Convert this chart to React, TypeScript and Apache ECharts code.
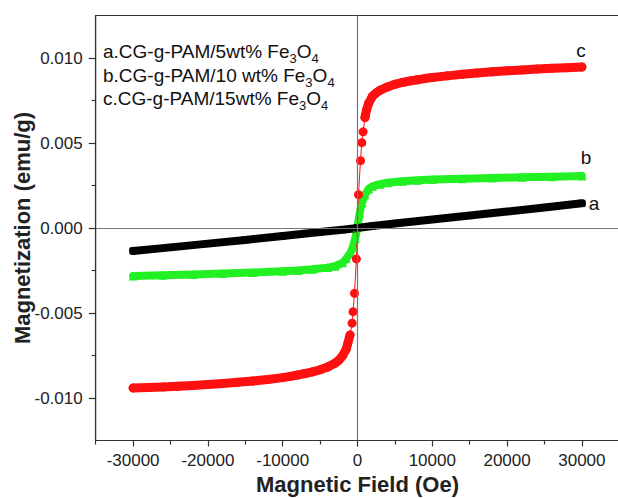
import React, { useEffect, useRef } from "react";
import * as echarts from "echarts";

// Magnetic field (Oe) and magnetization (emu/g)
const fieldA = [-30000, -25000, -20000, -15000, -10000, -5000, -2000, 0, 2000, 5000, 10000, 15000, 20000, 25000, 30000];
const magA = [-0.00135, -0.00114, -0.00092, -0.0007, -0.00047, -0.00024, -0.0001, 0.0, 0.00012, 0.00027, 0.0005, 0.00073, 0.00097, 0.00121, 0.00145];

const fieldB = [-30000, -26000, -22000, -18000, -14000, -10000, -8000, -6000, -4000, -3000, -2000, -1500, -1000, -600, -300, 0, 300, 600, 1000, 1500, 2000, 3000, 4000, 6000, 8000, 10000, 14000, 18000, 22000, 26000, 30000];
const magB = [-0.00282, -0.00278, -0.00273, -0.00268, -0.00262, -0.00255, -0.0025, -0.00243, -0.00233, -0.00225, -0.00205, -0.0018, -0.0015, -0.0011, -0.0006, 0.00005, 0.0009, 0.0015, 0.00195, 0.0023, 0.00245, 0.00258, 0.00266, 0.00275, 0.00281, 0.00285, 0.0029, 0.00294, 0.00298, 0.00302, 0.00306];

const fieldC = [-30000, -28000, -26000, -24000, -22000, -20000, -18000, -16000, -14000, -12000, -10000, -9000, -8000, -7000, -6000, -5000, -4000, -3000, -2500, -2000, -1500, -1000, -720, -590, -400, -150, 130, 400, 575, 750, 1000, 1200, 1500, 2000, 2500, 3000, 4000, 5000, 6000, 7000, 8000, 9000, 10000, 12000, 14000, 16000, 18000, 20000, 22000, 24000, 26000, 28000, 30000];
const magC = [-0.00941, -0.00938, -0.00935, -0.00931, -0.00926, -0.00921, -0.00915, -0.00908, -0.009, -0.00891, -0.0088, -0.00873, -0.00865, -0.00856, -0.00846, -0.00834, -0.00818, -0.00795, -0.00778, -0.00752, -0.00712, -0.0063, -0.0056, -0.00492, -0.00384, -0.00182, 0.00196, 0.00396, 0.00502, 0.00566, 0.0065, 0.00694, 0.00735, 0.00775, 0.00795, 0.0081, 0.0083, 0.00845, 0.00856, 0.00865, 0.00872, 0.00879, 0.00885, 0.00895, 0.00904, 0.00912, 0.00919, 0.00925, 0.0093, 0.00935, 0.00939, 0.00943, 0.00947];

const xMajor = [-30000, -20000, -10000, 0, 10000, 20000, 30000];
const xMinor = [-35000, -25000, -15000, -5000, 5000, 15000, 25000, 35000];
const yMajor = [-0.01, -0.005, 0, 0.005, 0.01];
const yMinor = [-0.0075, -0.0025, 0.0025, 0.0075];

const legendLines = [
  ["a.CG-g-PAM/5wt% Fe", "3", "O", "4"],
  ["b.CG-g-PAM/10 wt% Fe", "3", "O", "4"],
  ["c.CG-g-PAM/15wt% Fe", "3", "O", "4"],
];
const curveNames = ["a", "b", "c"];

const FONT = "'Liberation Sans', Arial, sans-serif";
const AX = "#333";

const pairs = (xs: number[], ys: number[]) => xs.map((x, i) => [x, ys[i]]);

export default function App() {
  const ref = useRef<HTMLDivElement>(null);
  useEffect(() => {
    const chart = echarts.init(ref.current!, null, { renderer: "svg" });
    const dA = pairs(fieldA, magA);
    const dB = pairs(fieldB, magB);
    const dC = pairs(fieldC, magC);
    const dCneg = dC.filter((p) => p[0] <= -1000);
    const dCpos = dC.filter((p) => p[0] >= 1000);
    const band = (data: number[][], color: string, width: number) => ({
      type: "line",
      data,
      symbol: "none",
      silent: true,
      lineStyle: { color, width, cap: "round", join: "round" },
    });
    const pts = (data: number[][], color: string, symbol: string, size: number, lw: number) => ({
      type: "line",
      data,
      symbol,
      symbolSize: size,
      showAllSymbol: true,
      silent: true,
      itemStyle: { color },
      lineStyle: { color, width: lw },
    });
    const rich = {
      n: { fontSize: 19, fontFamily: FONT, lineHeight: 23, verticalAlign: "top", fill: "#111" },
      s: { fontSize: 13, fontFamily: FONT, lineHeight: 23, verticalAlign: "bottom", fill: "#111" },
    };
    const legendGraphics = legendLines.map((l, i) => ({
      type: "text",
      x: 103,
      y: 42 + i * 23.5,
      style: {
        text: `{n|${l[0]}}{s|${l[1]}}{n|${l[2]}}{s|${l[3]}}`,
        rich,
        fill: "#111",
      },
    }));
    const namePos = [
      [594, 203],
      [586, 157],
      [581, 50],
    ];
    const nameGraphics = curveNames.map((n, i) => ({
      type: "text",
      x: namePos[i][0],
      y: namePos[i][1],
      style: {
        text: n,
        fontSize: 19,
        fontFamily: FONT,
        fill: "#111",
        align: "center",
        verticalAlign: "middle",
      },
    }));
    const xCommon = {
      type: "value",
      min: -35000,
      max: 35000,
      position: "bottom",
      splitLine: { show: false },
    };
    const yCommon = {
      type: "value",
      min: -0.0125,
      max: 0.0125,
      position: "left",
      splitLine: { show: false },
    };
    chart.setOption({
      animation: false,
      backgroundColor: "#fff",
      grid: {
        left: 95.7,
        top: 15.5,
        width: 523.6,
        height: 425,
        show: true,
        borderColor: AX,
        borderWidth: 1,
        backgroundColor: "transparent",
        containLabel: false,
        outerBoundsMode: "none",
      },
      xAxis: [
        {
          ...xCommon,
          axisLine: { show: true, onZero: false, lineStyle: { color: AX, width: 1.2 } },
          axisTick: { show: true, inside: false, length: 6, customValues: xMajor, lineStyle: { color: AX, width: 1.2 } },
          axisLabel: {
            customValues: xMajor,
            formatter: (v: number) => String(v),
            fontSize: 17,
            fontFamily: FONT,
            color: "#222",
            margin: 11,
          },
          name: "Magnetic Field (Oe)",
          nameLocation: "middle",
          nameGap: 32,
          nameTextStyle: { fontSize: 22, fontWeight: "bold", fontFamily: FONT, color: "#222" },
        },
        {
          ...xCommon,
          axisLine: { show: false, onZero: false },
          axisTick: { show: true, inside: false, length: 4, customValues: xMinor, lineStyle: { color: AX, width: 1.2 } },
          axisLabel: { show: false },
        },
      ],
      yAxis: [
        {
          ...yCommon,
          axisLine: { show: true, onZero: false, lineStyle: { color: AX, width: 1.2 } },
          axisTick: { show: true, inside: false, length: 7, customValues: yMajor, lineStyle: { color: AX, width: 1.2 } },
          axisLabel: {
            customValues: yMajor,
            formatter: (v: number) => v.toFixed(3),
            fontSize: 17,
            fontFamily: FONT,
            color: "#222",
            margin: 13,
          },
          name: "Magnetization (emu/g)",
          nameLocation: "middle",
          nameGap: 62,
          nameMoveOverlap: false,
          nameTextStyle: { fontSize: 22, fontWeight: "bold", fontFamily: FONT, color: "#222" },
        },
        {
          ...yCommon,
          axisLine: { show: false, onZero: false },
          axisTick: { show: true, inside: false, length: 4, customValues: yMinor, lineStyle: { color: AX, width: 1.2 } },
          axisLabel: { show: false },
        },
      ],
      series: [
        {
          ...band(dB, "#22F022", 8),
          markLine: {
            silent: true,
            symbol: "none",
            label: { show: false },
            lineStyle: { color: "#777", width: 1.2, type: "solid" },
            data: [{ xAxis: 0 }, { yAxis: 0 }],
          },
        },
        pts(dB, "#22F022", "triangle", 9, 1),
        band(dA, "#000", 8),
        pts(dA, "#000", "rect", 7, 1),
        band(dCneg, "#FF1010", 9),
        band(dCpos, "#FF1010", 9),
        pts(dC, "#FF1010", "circle", 9, 1),
      ],
      graphic: [...legendGraphics, ...nameGraphics],
    });
    return () => chart.dispose();
  }, []);
  return (
    <div style={{ position: "absolute", left: 0, top: 0, width: 618, height: 498, overflow: "hidden", background: "#fff" }}>
      <div ref={ref} style={{ width: 624, height: 498 }} />
    </div>
  );
}
